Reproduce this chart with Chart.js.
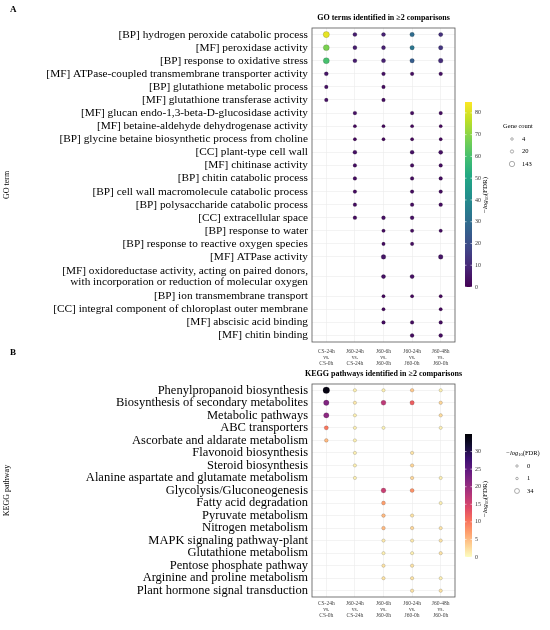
<!DOCTYPE html>
<html>
<head>
<meta charset="utf-8">
<script src="https://cdn.jsdelivr.net/npm/chart.js@4.4.1/dist/chart.umd.min.js"></script>
<style>
body { margin: 0; background: #fff; }
#wrap { position: relative; width: 550px; height: 630px; }
canvas { position: absolute; left: 0; }
#goChart { top: 0; }
#keggChart { top: 346px; }
</style>
</head>
<body>
<div id="wrap">
  <canvas id="goChart" width="550" height="366"></canvas>
  <canvas id="keggChart" width="550" height="284"></canvas>
</div>
<script>
// comparisons (x axis), shared by both panels
const comparisons = [
    ['CS-24h', 'vs.', 'CS-0h'],
    ['J60-24h', 'vs.', 'CS-24h'],
    ['J60-6h', 'vs.', 'J60-0h'],
    ['J60-24h', 'vs.', 'J60-0h'],
    ['J60-48h', 'vs.', 'J60-0h']
];

// panel A: GO terms
const goTerms = [
    '[BP] hydrogen peroxide catabolic process',
    '[MF] peroxidase activity',
    '[BP] response to oxidative stress',
    '[MF] ATPase-coupled transmembrane transporter activity',
    '[BP] glutathione metabolic process',
    '[MF] glutathione transferase activity',
    '[MF] glucan endo-1,3-beta-D-glucosidase activity',
    '[MF] betaine-aldehyde dehydrogenase activity',
    '[BP] glycine betaine biosynthetic process from choline',
    '[CC] plant-type cell wall',
    '[MF] chitinase activity',
    '[BP] chitin catabolic process',
    '[BP] cell wall macromolecule catabolic process',
    '[BP] polysaccharide catabolic process',
    '[CC] extracellular space',
    '[BP] response to water',
    '[BP] response to reactive oxygen species',
    '[MF] ATPase activity',
    ['[MF] oxidoreductase activity, acting on paired donors,', 'with incorporation or reduction of molecular oxygen'],
    '[BP] ion transmembrane transport',
    '[CC] integral component of chloroplast outer membrane',
    '[MF] abscisic acid binding',
    '[MF] chitin binding'
];

// -log10(FDR) per GO term and comparison (null = not significant)
const goFdr = [
    [82, 7, 8, 30, 12],
    [68, 7, 8, 33, 13],
    [60, 7, 8, 25, 11],
    [5, null, 4, 3, 4],
    [4, null, 3, null, null],
    [4, null, 3, null, null],
    [null, 4, null, 3, 3],
    [null, 2, 2, 2, 2],
    [null, 2, 2, 2, 2],
    [null, 4, null, 4, 4],
    [null, 3, null, 3, 3],
    [null, 3, null, 3, 3],
    [null, 3, null, 3, 3],
    [null, 3, null, 3, 3],
    [null, 3, 4, 4, null],
    [null, null, 3, 3, 3],
    [null, null, 3, 3, null],
    [null, null, 5, null, 5],
    [null, null, 4, 4, null],
    [null, null, 2, 2, 2],
    [null, null, 2, null, 2],
    [null, null, 3, 3, 3],
    [null, null, null, 3, 3]
];

// gene count per GO term and comparison
const goCount = [
    [90, 15, 15, 25, 20],
    [80, 15, 15, 25, 25],
    [85, 15, 18, 25, 30],
    [15, null, 10, 8, 10],
    [8, null, 8, null, null],
    [8, null, 8, null, null],
    [null, 10, null, 8, 8],
    [null, 4, 4, 4, 4],
    [null, 4, 4, 4, 4],
    [null, 15, null, 15, 18],
    [null, 8, null, 8, 8],
    [null, 8, null, 8, 8],
    [null, 8, null, 8, 8],
    [null, 8, null, 8, 10],
    [null, 10, 12, 12, null],
    [null, null, 6, 6, 6],
    [null, null, 6, 6, null],
    [null, null, 30, null, 30],
    [null, null, 18, 18, null],
    [null, null, 5, 5, 5],
    [null, null, 5, null, 5],
    [null, null, 8, 8, 8],
    [null, null, null, 12, 12]
];
const goFdrMax = 85;
const goFdrTicks = [0, 10, 20, 30, 40, 50, 60, 70, 80];
const goCountTicks = [4, 20, 143];

// panel B: KEGG pathways
const keggPathways = [
    'Phenylpropanoid biosynthesis',
    'Biosynthesis of secondary metabolites',
    'Metabolic pathways',
    'ABC transporters',
    'Ascorbate and aldarate metabolism',
    'Flavonoid biosynthesis',
    'Steroid biosynthesis',
    'Alanine aspartate and glutamate metabolism',
    'Glycolysis/Gluconeogenesis',
    'Fatty acid degradation',
    'Pyruvate metabolism',
    'Nitrogen metabolism',
    'MAPK signaling pathway-plant',
    'Glutathione metabolism',
    'Pentose phosphate pathway',
    'Arginine and proline metabolism',
    'Plant hormone signal transduction'
];

// -log10(FDR) per pathway and comparison (also sets the dot size)
const keggFdr = [
    [34, 1, 1, 4, 1],
    [22, 1.5, 17, 12, 3],
    [21, 1, null, null, 2.5],
    [10, 1, 0.8, null, 1],
    [5, 1, null, null, null],
    [null, 1, null, 2, null],
    [null, 1, null, 3, null],
    [null, 1, null, 3, 1],
    [null, null, 16, 8, null],
    [null, null, 7, null, 1],
    [null, null, 5, 2, null],
    [null, null, 5, 3, 2],
    [null, null, 1.5, 1.5, 2],
    [null, null, 1, 1, 2],
    [null, null, 2, 2, null],
    [null, null, 2, 2, 1],
    [null, null, null, 2, 2]
];
const keggFdrMax = 35;
const keggFdrTicks = [0, 5, 10, 15, 20, 25, 30];
const keggSizeTicks = [0, 1, 34];

const serif = "'Liberation Serif', 'Times New Roman', serif";

// colour maps
const viridisStops = ['#440154', '#482475', '#414487', '#355f8d', '#2a788e', '#21918c', '#22a884', '#44bf70', '#7ad151', '#bddf26', '#fde725'];
const magmaStops = ['#000004', '#140e36', '#3b0f70', '#641a80', '#8c2981', '#b73779', '#de4968', '#f7705c', '#fe9f6d', '#fecf92', '#fcfdbf'];

function hexToRgb(h) {
    return [parseInt(h.slice(1, 3), 16), parseInt(h.slice(3, 5), 16), parseInt(h.slice(5, 7), 16)];
}
function ramp(stops, t) {
    t = Math.max(0, Math.min(1, t));
    const p = t * (stops.length - 1);
    const i = Math.min(Math.floor(p), stops.length - 2);
    const f = p - i;
    const a = hexToRgb(stops[i]), b = hexToRgb(stops[i + 1]);
    const c = a.map((v, k) => Math.round(v + (b[k] - v) * f));
    return 'rgb(' + c.join(',') + ')';
}
const goColor = v => ramp(viridisStops, v / goFdrMax);
const keggColor = v => ramp(magmaStops, 1 - v / keggFdrMax);

const countRadius = n => 1.3 + Math.sqrt(n) * 0.19;
const fdrRadius = v => 1.6 + v * 0.05;

// row slots: a two-line label takes two slots and sits between them
function slotPositions(labels) {
    let s = 0;
    return labels.map(l => {
        const n = Array.isArray(l) ? l.length : 1;
        const pos = s + (n - 1) / 2;
        s += n;
        return pos;
    });
}
function slotCount(labels) {
    return labels.reduce((s, l) => s + (Array.isArray(l) ? l.length : 1), 0);
}

function buildPoints(values, sizes, radius, slots) {
    const pts = [];
    values.forEach((row, i) => row.forEach((v, j) => {
        if (v === null) return;
        pts.push({ x: j, y: slots[i], r: radius(sizes[i][j]), v: v });
    }));
    return pts;
}

// draws "-log10(FDR)" with an italic log and subscript 10, centred at 0,0
function drawFdrLabel(ctx, size) {
    const parts = [
        { t: '\u2212', f: size + 'px ' + serif, dy: 0 },
        { t: 'log', f: 'italic ' + size + 'px ' + serif, dy: 0 },
        { t: '10', f: (size * 0.7) + 'px ' + serif, dy: size * 0.3 },
        { t: '(FDR)', f: size + 'px ' + serif, dy: 0 }
    ];
    let w = 0;
    parts.forEach(p => { ctx.font = p.f; p.w = ctx.measureText(p.t).width; w += p.w; });
    let x = -w / 2;
    ctx.textAlign = 'left';
    ctx.textBaseline = 'middle';
    parts.forEach(p => { ctx.font = p.f; ctx.fillText(p.t, x, p.dy); x += p.w; });
}

const decorations = {
    id: 'decorations',
    afterDraw(chart, args, o) {
        const ctx = chart.ctx;
        const a = chart.chartArea;
        ctx.save();
        // panel border
        ctx.strokeStyle = '#555';
        ctx.lineWidth = 0.8;
        ctx.strokeRect(a.left, a.top, a.right - a.left, a.bottom - a.top);
        ctx.fillStyle = '#000';
        // panel letter
        ctx.font = 'bold 9px ' + serif;
        ctx.textAlign = 'left';
        ctx.textBaseline = 'middle';
        ctx.fillText(o.letter, o.letterX, o.letterY);
        // title
        ctx.font = 'bold 8px ' + serif;
        ctx.textAlign = 'center';
        ctx.fillText(o.title, (a.left + a.right) / 2, a.top - 10);

        // colour bar
        const cb = o.colorbar;
        const g = ctx.createLinearGradient(0, cb.bottom, 0, cb.top);
        for (let k = 0; k <= 20; k++) g.addColorStop(k / 20, cb.color(cb.max * k / 20));
        ctx.fillStyle = g;
        ctx.fillRect(cb.x, cb.top, 7, cb.bottom - cb.top);
        ctx.strokeStyle = '#fff';
        ctx.lineWidth = 0.6;
        ctx.font = '6px ' + serif;
        ctx.textAlign = 'left';
        cb.ticks.forEach(t => {
            const y = cb.bottom - (t / cb.max) * (cb.bottom - cb.top);
            ctx.beginPath();
            ctx.moveTo(cb.x, y); ctx.lineTo(cb.x + 1.5, y);
            ctx.moveTo(cb.x + 5.5, y); ctx.lineTo(cb.x + 7, y);
            ctx.stroke();
            ctx.fillStyle = '#333';
            ctx.fillText(String(t), cb.x + 10, y);
        });
        ctx.save();
        ctx.fillStyle = '#000';
        ctx.translate(cb.x + 20, cb.titleY);
        ctx.rotate(-Math.PI / 2);
        drawFdrLabel(ctx, 7);
        ctx.restore();

        // size legend
        const sl = o.sizeLegend;
        ctx.fillStyle = '#000';
        if (sl.fdrTitle) {
            ctx.save();
            ctx.translate(sl.x + 6, sl.y);
            drawFdrLabel(ctx, 6.5);
            ctx.restore();
        } else {
            ctx.font = '6.5px ' + serif;
            ctx.textAlign = 'center';
            ctx.fillText(sl.title, sl.x + 6, sl.y);
        }
        sl.ticks.forEach((t, i) => {
            const y = sl.y + 13 + i * 12.5;
            ctx.beginPath();
            ctx.arc(sl.x, y, sl.radius(t) * 0.75, 0, Math.PI * 2);
            ctx.strokeStyle = '#777';
            ctx.lineWidth = 0.6;
            ctx.stroke();
            ctx.fillStyle = '#000';
            ctx.font = '6.5px ' + serif;
            ctx.textAlign = 'left';
            ctx.fillText(String(t), sl.x + 10, y);
        });
        ctx.restore();
    }
};

function makeOptions(rows, fontSize, yTitle, xHeight, xPad, padTop, deco) {
    const slots = slotPositions(rows);
    const nSlots = slotCount(rows);
    return {
        responsive: false,
        animation: false,
        events: [],
        layout: { padding: { left: 0, right: 95, top: padTop, bottom: 0 } },
        plugins: { legend: { display: false }, tooltip: { enabled: false }, decorations: deco },
        scales: {
            x: {
                type: 'linear',
                bounds: 'data',
                min: -0.5,
                max: comparisons.length - 0.5,
                afterBuildTicks: s => { s.ticks = comparisons.map((c, j) => ({ value: j })); },
                grid: { color: '#ebebeb', lineWidth: 0.6, drawTicks: false },
                border: { display: false },
                ticks: {
                    font: { family: serif, size: 5.5, lineHeight: 1.05 }, color: '#444',
                    padding: xPad, maxRotation: 0, autoSkip: false,
                    callback: v => comparisons[v]
                },
                afterFit: s => { s.height = xHeight; }
            },
            y: {
                type: 'linear',
                bounds: 'data',
                reverse: true,
                min: -0.5,
                max: nSlots - 0.5,
                afterBuildTicks: s => { s.ticks = slots.map(p => ({ value: p })); },
                grid: { color: '#ebebeb', lineWidth: 0.6, drawTicks: false },
                border: { display: false },
                ticks: {
                    font: { family: serif, size: fontSize, lineHeight: 1.0 }, color: '#000',
                    padding: 4, autoSkip: false,
                    callback: v => rows[slots.indexOf(v)]
                },
                title: { display: true, text: yTitle, font: { family: serif, size: 8 }, color: '#000', padding: { top: 2, bottom: 0 } },
                afterFit: s => { s.width = 312; }
            }
        }
    };
}

function pointStyle(colorFn) {
    return {
        backgroundColor: c => c.raw ? colorFn(c.raw.v) : '#000',
        borderColor: 'rgba(0,0,0,0.25)',
        borderWidth: 0.6
    };
}

new Chart(document.getElementById('goChart'), {
    type: 'bubble',
    data: {
        datasets: [Object.assign({ data: buildPoints(goFdr, goCount, countRadius, slotPositions(goTerms)) }, pointStyle(goColor))]
    },
    options: makeOptions(goTerms, 11.3, 'GO term', 24, 7, 28, {
        letter: 'A', letterX: 10, letterY: 10,
        title: 'GO terms identified in \u22652 comparisons',
        colorbar: { x: 465, top: 102, bottom: 287, max: goFdrMax, ticks: goFdrTicks, color: goColor, titleY: 195 },
        sizeLegend: { x: 512, y: 126, title: 'Gene count', ticks: goCountTicks, radius: countRadius }
    }),
    plugins: [decorations]
});

new Chart(document.getElementById('keggChart'), {
    type: 'bubble',
    data: {
        datasets: [Object.assign({ data: buildPoints(keggFdr, keggFdr, fdrRadius, slotPositions(keggPathways)) }, pointStyle(keggColor))]
    },
    options: makeOptions(keggPathways, 12.5, 'KEGG pathway', 33, 4, 38, {
        letter: 'B', letterX: 10, letterY: 7,
        title: 'KEGG pathways identified in \u22652 comparisons',
        colorbar: { x: 465, top: 434 - 346, bottom: 557 - 346, max: keggFdrMax, ticks: keggFdrTicks, color: keggColor, titleY: 499 - 346 },
        sizeLegend: { x: 517, y: 453 - 346, fdrTitle: true, ticks: keggSizeTicks, radius: fdrRadius }
    }),
    plugins: [decorations]
});
</script>
</body>
</html>
